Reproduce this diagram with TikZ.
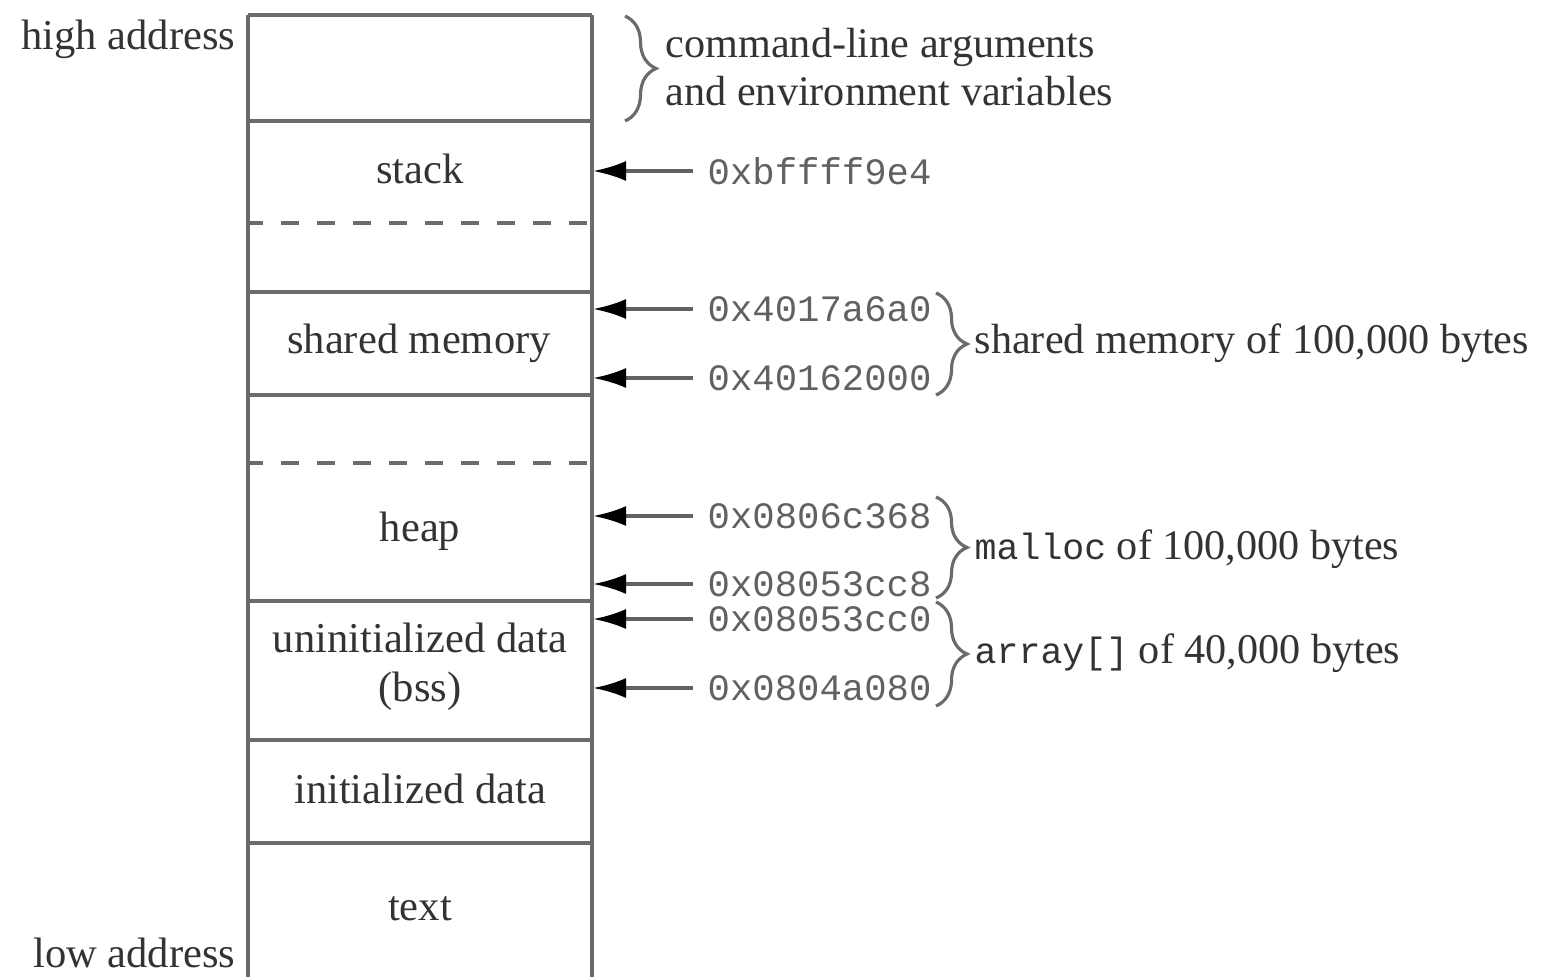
\documentclass[tikz,border=0pt]{standalone}
\usepackage{fontspec}
\setmainfont{Liberation Serif}
\setmonofont{Liberation Mono}
\usetikzlibrary{arrows.meta,decorations.pathreplacing}
\begin{document}
\begin{tikzpicture}[x=0.01cm,y=-0.01cm,
  wall/.style={draw=black!58,line width=1.1pt},
  split/.style={draw=black!58,line width=1.1pt,dash pattern=on 0.18cm off 0.18cm,dash phase=0.03cm},
  lbl/.style={font=\fontsize{12.1}{13.6}\selectfont,text=black!80,inner sep=0pt,align=center},
  side/.style={font=\fontsize{12}{13.6}\selectfont,text=black!80,inner sep=0pt,align=left,anchor=west},
  addr/.style={font=\ttfamily\fontsize{10.6}{12}\selectfont,text=black!62,anchor=west,inner xsep=0.14cm,inner ysep=0pt},
  ptr/.style={draw=black!62,line width=1pt,-{Latex[length=0.33cm,width=0.2cm,black]}},
  curly/.style={draw=black!58,line width=0.9pt,decorate,decoration={brace,amplitude=0.31cm}},
]
\useasboundingbox (0,0) rectangle (1549,976);

% memory column
\draw[wall] (248,15) -- (248,990);
\draw[wall] (592,15) -- (592,990);
\foreach \yy in {15,121,292,395,601,740,843}
  \draw[wall] (248,\yy) -- (592,\yy);
\foreach \yy in {223,463}
  \draw[split] (248,\yy) -- (592,\yy);

% segment names
\node[lbl] (stack) at (420,169) {stack};
\node[lbl] (shm) at (419,343) {shared memory};
\node[lbl] (heap) at (420,531) {heap};
\node[lbl] (bss) at (420,667) {uninitialized data\\[0.3pt](bss)};
\node[lbl] (data) at (420,789) {initialized data};
\node[lbl] (txt) at (420,909) {text};

% address ends
\node[lbl,anchor=east] (hi) at (236,39) {high address};
\node[lbl,anchor=east] (lo) at (236,953) {low address};

% argument area
\coordinate (argtop) at (625,16);
\coordinate (argbot) at (625,121);
\draw[curly] (argtop) -- (argbot);
\node[side] (args) at (665,67) {command-line arguments\\and environment variables};

% pointers into the column
\coordinate (p1) at (593,171);
\coordinate (p2) at (593,309);
\coordinate (p3) at (593,378);
\coordinate (p4) at (593,516);
\coordinate (p5) at (593,584);
\coordinate (p6) at (593,619);
\coordinate (p7) at (593,688);

\node[addr] (a1) at (693,171) {0xbffff9e4};
\node[addr] (a2) at (693,309) {0x4017a6a0};
\node[addr] (a3) at (693,378) {0x40162000};
\node[addr] (a4) at (693,516) {0x0806c368};
\node[addr] (a5) at (693,584) {0x08053cc8};
\node[addr] (a6) at (693,619) {0x08053cc0};
\node[addr] (a7) at (693,688) {0x0804a080};

\foreach \i in {1,...,7}
  \draw[ptr] (a\i.west) -- (p\i);

% ranges
\coordinate (r1t) at (936,293);
\coordinate (r1b) at (936,395);
\coordinate (r2t) at (936,497);
\coordinate (r2b) at (936,598);
\coordinate (r3t) at (936,602);
\coordinate (r3b) at (936,706);
\draw[curly] (r1t) -- (r1b);
\draw[curly] (r2t) -- (r2b);
\draw[curly] (r3t) -- (r3b);

\node[side] (shmsize) at (974,343) {shared memory of 100,000 bytes};
\node[side] (mallocsize) at (974,549) {\texttt{\fontsize{10.4}{12}\selectfont malloc} of 100,000 bytes};
\node[side] (arraysize) at (974,653) {\texttt{\fontsize{10.4}{12}\selectfont array[]} of 40,000 bytes};
\end{tikzpicture}
\end{document}
